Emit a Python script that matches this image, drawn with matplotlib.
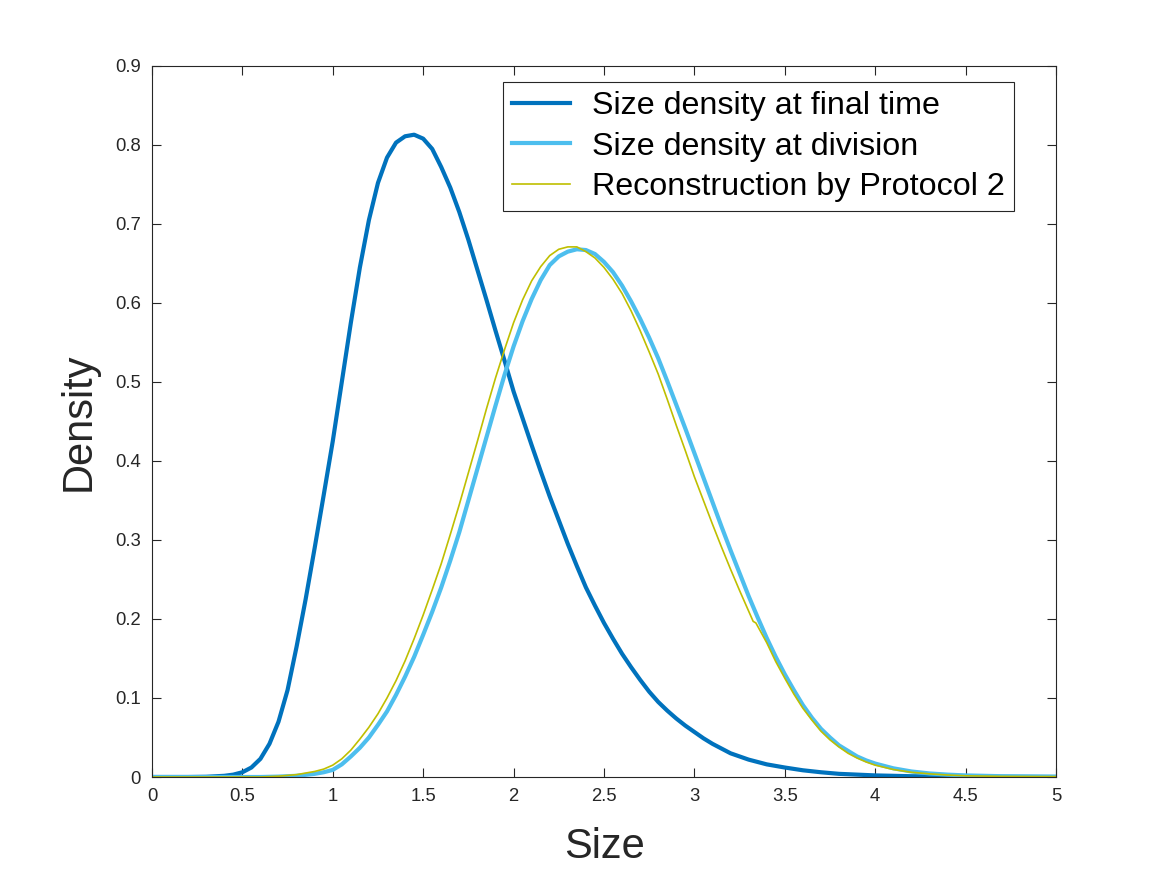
import numpy as np
import matplotlib
matplotlib.use('Agg')
import matplotlib.pyplot as plt
from matplotlib.ticker import FuncFormatter

# values
x_final = [0.0, 0.1, 0.2, 0.3, 0.4, 0.45, 0.5, 0.55, 0.6, 0.65, 0.7, 0.75, 0.8, 0.85, 0.9, 0.95,
           1.0, 1.05, 1.1, 1.15, 1.2, 1.25, 1.3, 1.35, 1.4, 1.45, 1.5, 1.55, 1.6, 1.65, 1.7, 1.75,
           1.8, 1.85, 1.9, 1.95, 2.0, 2.05, 2.1, 2.15, 2.2, 2.25, 2.3, 2.35, 2.4, 2.45, 2.5, 2.55,
           2.6, 2.65, 2.7, 2.75, 2.8, 2.85, 2.9, 2.95, 3.0, 3.05, 3.1, 3.15, 3.2, 3.25, 3.3, 3.35,
           3.4, 3.45, 3.5, 3.6, 3.7, 3.8, 3.9, 4.0, 4.2, 4.5, 5.0]
d_final = [0.0, 0.0, 0.0, 0.0003, 0.0015, 0.003, 0.006, 0.012, 0.023, 0.042, 0.07, 0.11, 0.165, 0.225, 0.29, 0.357,
           0.425, 0.50, 0.575, 0.645, 0.705, 0.752, 0.784, 0.803, 0.811, 0.813, 0.808, 0.795, 0.772, 0.746, 0.715, 0.68,
           0.642, 0.604, 0.565, 0.527, 0.488, 0.454, 0.42, 0.387, 0.355, 0.325, 0.295, 0.267, 0.24, 0.217, 0.195, 0.175,
           0.156, 0.139, 0.123, 0.108, 0.095, 0.084, 0.074, 0.065, 0.057, 0.049, 0.042, 0.036, 0.030, 0.026, 0.022, 0.019,
           0.016, 0.014, 0.012, 0.0085, 0.006, 0.004, 0.003, 0.002, 0.001, 0.0003, 0.0]

x_div = [0.0, 0.6, 0.7, 0.8, 0.9, 0.95, 1.0, 1.05, 1.1, 1.15, 1.2, 1.25, 1.3, 1.35, 1.4, 1.45,
         1.5, 1.55, 1.6, 1.65, 1.7, 1.75, 1.8, 1.85, 1.9, 1.95, 2.0, 2.05, 2.1, 2.15, 2.2, 2.25,
         2.3, 2.35, 2.4, 2.45, 2.5, 2.55, 2.6, 2.65, 2.7, 2.75, 2.8, 2.85, 2.9, 2.95, 3.0, 3.05,
         3.1, 3.15, 3.2, 3.25, 3.3, 3.35, 3.4, 3.45, 3.5, 3.55, 3.6, 3.65, 3.7, 3.75, 3.8, 3.85,
         3.9, 3.95, 4.0, 4.1, 4.2, 4.3, 4.4, 4.5, 4.7, 5.0]
d_div = [0.0, 0.0, 0.0005, 0.0015, 0.004, 0.006, 0.009, 0.016, 0.026, 0.037, 0.05, 0.066, 0.083, 0.104, 0.127, 0.152,
         0.18, 0.209, 0.24, 0.274, 0.31, 0.35, 0.39, 0.43, 0.47, 0.509, 0.545, 0.577, 0.605, 0.629, 0.648, 0.659,
         0.665, 0.668, 0.667, 0.662, 0.652, 0.639, 0.622, 0.602, 0.58, 0.556, 0.53, 0.501, 0.471, 0.441, 0.41, 0.379,
         0.348, 0.317, 0.287, 0.258, 0.229, 0.202, 0.176, 0.152, 0.13, 0.11, 0.091, 0.075, 0.061, 0.05, 0.04, 0.033,
         0.026, 0.021, 0.017, 0.011, 0.007, 0.0045, 0.003, 0.002, 0.001, 0.0005]

x_rec = [0.0, 0.6, 0.7, 0.8, 0.9, 0.95, 1.0, 1.05, 1.1, 1.15, 1.2, 1.25, 1.3, 1.35, 1.4, 1.45,
         1.5, 1.55, 1.6, 1.65, 1.7, 1.75, 1.8, 1.85, 1.9, 1.95, 2.0, 2.05, 2.1, 2.15, 2.2, 2.25,
         2.3, 2.35, 2.4, 2.45, 2.5, 2.55, 2.6, 2.65, 2.7, 2.75, 2.8, 2.85, 2.9, 2.95, 3.0, 3.05,
         3.1, 3.15, 3.2, 3.25, 3.3, 3.325, 3.34, 3.4, 3.45, 3.5, 3.55, 3.6, 3.65, 3.7, 3.75, 3.8, 3.85,
         3.9, 3.95, 4.0, 4.1, 4.2, 4.3, 4.4, 4.5, 4.7, 5.0]
d_rec = [0.0, 0.0, 0.001, 0.003, 0.007, 0.010, 0.015, 0.023, 0.034, 0.048, 0.063, 0.080, 0.10, 0.122, 0.147, 0.175,
         0.205, 0.237, 0.27, 0.307, 0.345, 0.385, 0.425, 0.466, 0.505, 0.541, 0.575, 0.604, 0.628, 0.646, 0.66, 0.668,
         0.671, 0.671, 0.665, 0.657, 0.645, 0.63, 0.612, 0.59, 0.565, 0.538, 0.51, 0.478, 0.445, 0.413, 0.38, 0.35,
         0.32, 0.291, 0.263, 0.236, 0.21, 0.197, 0.195, 0.170, 0.146, 0.125, 0.105, 0.087, 0.072, 0.058, 0.047, 0.038, 0.03,
         0.024, 0.019, 0.015, 0.0095, 0.006, 0.004, 0.0025, 0.0015, 0.0008, 0.0005]

labels = ['Size density at final time', 'Size density at division', 'Reconstruction by Protocol 2']
colors = ['#0072BD', '#4DBEEE', '#BFBF00']
###########################################################
plt.rcParams['font.family'] = ['Liberation Sans', 'DejaVu Sans']
dark = '#262626'

fig = plt.figure(figsize=(11.67, 8.75), dpi=100)
ax = fig.add_axes([0.1302, 0.112, 0.7747, 0.8126])

ax.plot(x_final, d_final, color=colors[0], lw=3.0, label=labels[0], solid_joinstyle='round')
ax.plot(x_div, d_div, color=colors[1], lw=3.0, label=labels[1], solid_joinstyle='round')
ax.plot(x_rec, d_rec, color=colors[2], lw=1.2, label=labels[2], solid_joinstyle='round')

ax.set_xlim(0, 5)
ax.set_ylim(0, 0.9)
ax.set_xticks(np.arange(0, 5.01, 0.5))
ax.set_yticks(np.arange(0, 0.91, 0.1))
ax.xaxis.set_major_formatter(FuncFormatter(lambda v, p: '%g' % round(v, 2)))
ax.yaxis.set_major_formatter(FuncFormatter(lambda v, p: '%g' % round(v, 2)))
ax.tick_params(direction='in', length=6.5, width=0.8, top=True, right=True,
               labelsize=13.3, colors=dark, pad=8)
for s in ax.spines.values():
    s.set_color(dark)
    s.set_linewidth(0.8)

ax.set_xlabel('Size', fontsize=30, color=dark, labelpad=16)
ax.set_ylabel('Density', fontsize=30, color=dark, labelpad=12)

leg = ax.legend(loc='upper right', bbox_to_anchor=(0.9535, 0.9775), fontsize=23.2,
                frameon=True, fancybox=False, framealpha=1, edgecolor=dark,
                handlelength=1.8, handletextpad=0.67, labelspacing=0.33,
                borderpad=0.28, borderaxespad=0.0)
leg.get_frame().set_linewidth(0.8)

plt.savefig('out.png', dpi=100)
